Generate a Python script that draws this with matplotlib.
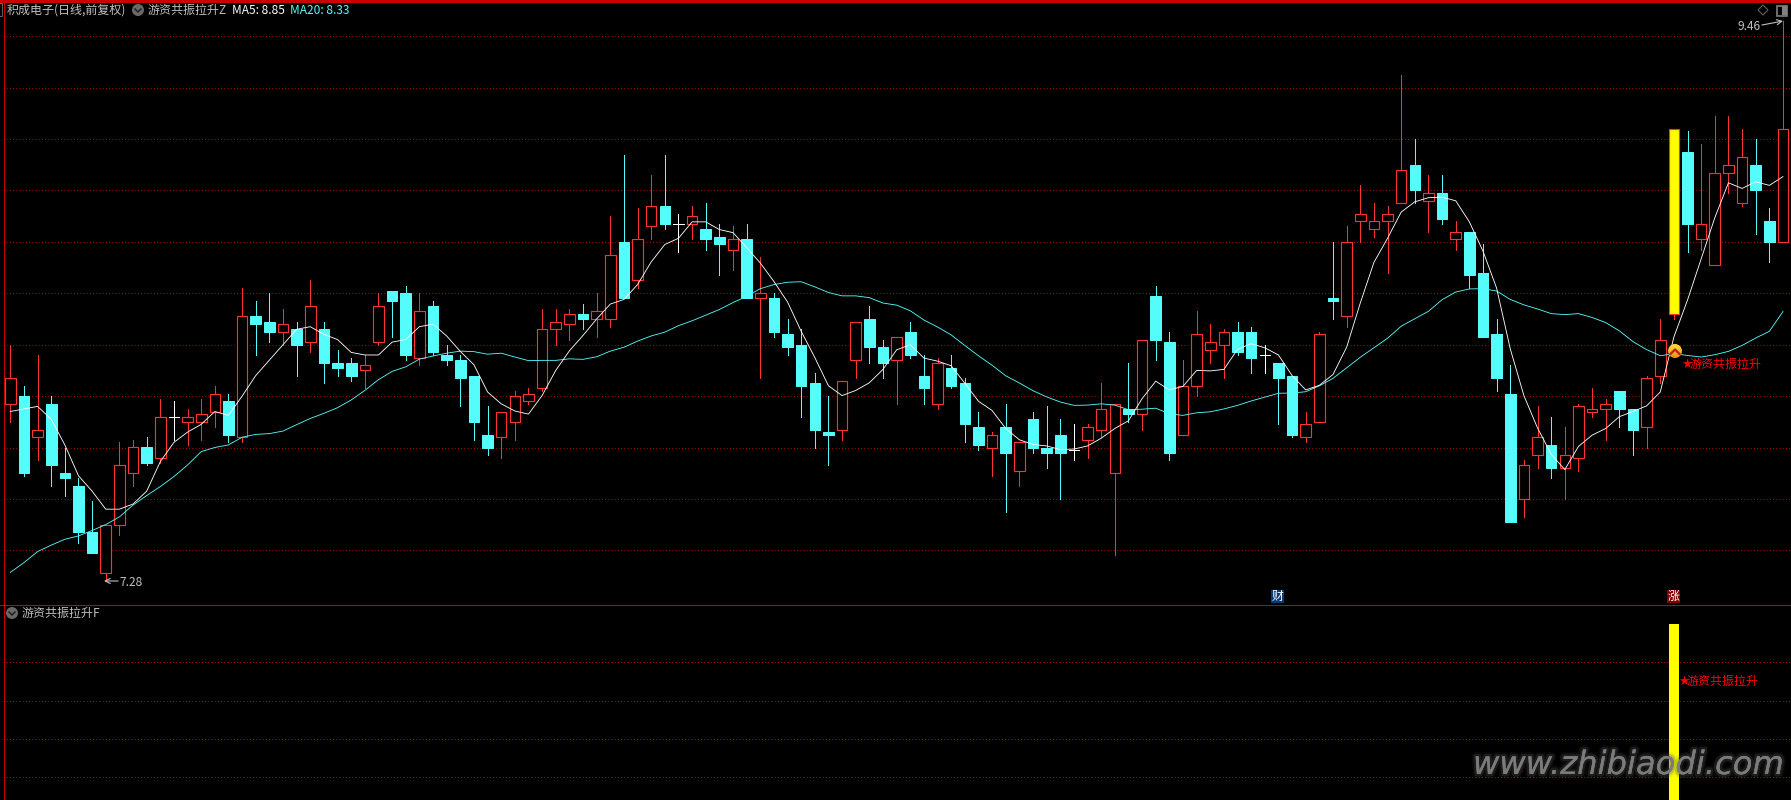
import matplotlib
matplotlib.use("Agg")
import numpy as np
import matplotlib.pyplot as plt
import matplotlib.patheffects as pe
from matplotlib.patches import Rectangle, Circle, Polygon

W, H = 1791, 800
CJK = ['Noto Sans CJK SC', 'DejaVu Sans']
plt.rcParams['font.family'] = CJK

open_ = [7.97,8.00,7.84,7.97,7.70,7.65,7.47,7.31,7.50,7.70,7.80,7.76,7.92,7.90,7.90,7.94,7.98,7.84,8.31,8.29,
         8.25,8.26,8.21,8.26,8.13,8.13,8.10,8.21,8.41,8.40,8.15,8.35,8.16,8.14,8.08,7.85,7.84,7.90,7.98,8.03,
         8.26,8.28,8.32,8.30,8.30,8.60,8.45,8.66,8.74,8.67,8.67,8.65,8.62,8.57,8.61,8.38,8.38,8.24,8.20,8.05,
         7.86,7.87,8.14,8.30,8.19,8.14,8.25,8.08,7.97,8.11,8.05,7.88,7.80,7.88,7.71,7.91,7.80,7.85,7.79,7.83,
         7.87,7.70,7.95,7.93,8.39,8.21,7.85,8.04,8.18,8.20,8.25,8.25,8.16,8.13,8.08,7.84,7.90,8.38,8.31,8.68,
         8.65,8.68,8.75,8.90,8.76,8.79,8.61,8.64,8.48,8.24,8.01,7.60,7.77,7.81,7.72,7.76,7.94,7.95,8.02,7.95,
         7.88,8.08,8.32,8.95,8.61,8.51,8.87,8.75,8.90,8.68,8.60]
high = [8.20,8.04,8.16,8.00,7.80,7.68,7.59,7.50,7.82,7.83,7.84,7.99,7.98,7.95,7.99,8.04,8.01,8.42,8.37,8.40,
        8.34,8.29,8.45,8.29,8.18,8.15,8.16,8.40,8.41,8.43,8.40,8.37,8.20,8.16,8.08,7.96,7.94,8.02,8.03,8.34,
        8.34,8.34,8.36,8.40,8.70,8.94,8.73,8.86,8.94,8.71,8.74,8.75,8.67,8.66,8.67,8.54,8.40,8.30,8.26,8.09,
        8.00,8.06,8.29,8.35,8.22,8.23,8.29,8.16,8.15,8.16,8.07,7.94,7.86,7.97,7.82,7.94,7.96,7.91,7.89,7.89,
        8.05,7.97,8.13,8.22,8.43,8.25,8.14,8.33,8.28,8.26,8.29,8.27,8.20,8.13,8.08,7.94,8.25,8.60,8.66,8.82,
        8.75,8.74,9.25,9.00,8.86,8.86,8.68,8.64,8.59,8.30,8.12,7.75,7.96,7.92,7.88,7.97,8.03,7.99,8.02,7.95,
        8.08,8.30,9.04,9.03,8.98,9.09,9.09,9.04,9.00,8.73,9.46]
low = [7.90,7.69,7.75,7.65,7.61,7.43,7.39,7.28,7.46,7.65,7.73,7.74,7.83,7.81,7.83,7.88,7.82,7.82,8.16,8.21,
       8.20,8.08,8.17,8.05,8.08,8.06,8.03,8.20,8.23,8.14,8.12,8.16,8.12,7.96,7.83,7.77,7.76,7.83,7.97,8.02,
       8.20,8.22,8.26,8.23,8.27,8.38,8.42,8.61,8.65,8.56,8.61,8.57,8.47,8.49,8.38,8.07,8.23,8.16,7.92,7.80,
       7.73,7.83,8.07,8.13,8.07,7.97,8.15,7.97,7.95,8.03,7.82,7.79,7.69,7.55,7.65,7.78,7.72,7.60,7.75,7.76,
       7.84,7.38,7.90,7.87,8.14,7.75,7.85,8.00,8.13,8.07,8.16,8.09,8.09,7.89,7.84,7.82,7.90,8.30,8.27,8.60,
       8.62,8.48,8.75,8.75,8.64,8.67,8.57,8.42,8.23,8.02,7.51,7.53,7.72,7.68,7.60,7.71,7.92,7.83,7.88,7.77,
       7.80,8.05,8.30,8.56,8.57,8.51,8.79,8.74,8.63,8.52,8.60]
close = [8.07,7.70,7.87,7.73,7.68,7.47,7.39,7.50,7.73,7.80,7.74,7.92,7.92,7.92,7.93,8.01,7.85,8.31,8.28,8.25,
         8.28,8.20,8.35,8.13,8.11,8.08,8.12,8.35,8.37,8.16,8.33,8.17,8.14,8.07,7.90,7.80,7.94,8.00,8.01,8.26,
         8.29,8.32,8.30,8.33,8.55,8.38,8.61,8.74,8.67,8.67,8.70,8.61,8.59,8.61,8.38,8.40,8.25,8.19,8.04,7.87,
         7.85,8.06,8.29,8.19,8.13,8.23,8.16,8.03,8.13,8.04,7.89,7.81,7.85,7.78,7.82,7.80,7.78,7.78,7.79,7.88,
         7.95,7.97,7.93,8.22,8.22,7.78,8.04,8.24,8.21,8.25,8.17,8.15,8.16,8.07,7.85,7.89,8.24,8.37,8.60,8.71,
         8.68,8.71,8.88,8.80,8.79,8.69,8.64,8.47,8.23,8.07,7.51,7.73,7.84,7.72,7.77,7.96,7.95,7.97,7.95,7.87,
         8.07,8.22,9.04,8.67,8.67,8.87,8.90,8.93,8.80,8.60,9.04]
ma5 = [7.94,7.95,7.96,7.91,7.81,7.69,7.63,7.56,7.56,7.58,7.63,7.745,7.82,7.86,7.89,7.94,7.925,8.00,8.08,8.14,
       8.20,8.26,8.27,8.24,8.22,8.17,8.16,8.16,8.21,8.22,8.27,8.28,8.234,8.174,8.122,8.016,7.97,7.942,7.93,8.002,
       8.10,8.176,8.236,8.30,8.358,8.376,8.434,8.522,8.59,8.614,8.678,8.678,8.648,8.636,8.578,8.518,8.446,8.366,8.252,8.15,
       8.04,8.002,8.022,8.052,8.104,8.18,8.20,8.148,8.136,8.118,8.05,7.98,7.944,7.874,7.83,7.812,7.806,7.792,7.794,7.806,
       7.836,7.874,7.904,7.99,8.058,8.024,8.038,8.10,8.098,8.104,8.182,8.204,8.188,8.16,8.08,8.024,8.042,8.084,8.19,8.362,
       8.52,8.614,8.716,8.756,8.772,8.774,8.76,8.678,8.564,8.42,8.184,8.002,7.876,7.774,7.714,7.804,7.848,7.874,7.92,7.94,
       7.962,8.016,8.23,8.374,8.534,8.694,8.83,8.808,8.834,8.82,8.854]
ma20 = [7.314,7.352,7.395,7.42,7.443,7.456,7.477,7.50,7.53,7.576,7.613,7.648,7.687,7.732,7.784,7.80,7.81,7.84,7.851,7.854,
        7.864,7.889,7.913,7.933,7.955,7.985,8.022,8.064,8.096,8.114,8.144,8.156,8.167,8.175,8.173,8.163,8.167,8.152,8.138,8.139,
        8.139,8.145,8.143,8.153,8.175,8.190,8.214,8.234,8.249,8.274,8.293,8.315,8.337,8.364,8.388,8.418,8.434,8.443,8.445,8.425,
        8.403,8.390,8.390,8.383,8.362,8.354,8.332,8.296,8.269,8.238,8.197,8.157,8.120,8.079,8.051,8.021,7.997,7.977,7.964,7.965,
        7.970,7.965,7.947,7.949,7.953,7.931,7.925,7.935,7.939,7.950,7.964,7.981,7.996,8.011,8.012,8.017,8.040,8.069,8.110,8.151,
        8.188,8.225,8.272,8.301,8.330,8.375,8.405,8.417,8.418,8.409,8.376,8.355,8.339,8.321,8.317,8.321,8.306,8.286,8.254,8.212,
        8.181,8.157,8.165,8.158,8.152,8.161,8.174,8.197,8.226,8.252,8.329]
price_grid = [9.40,9.20,9.00,8.80,8.60,8.40,8.20,8.00,7.80,7.60,7.40]
signal_index = 122
signal_value = 100
low_grid = [80,60,40,20]
low_label = '7.28'
high_label = '9.46'

RED = '#ff3232'
CYAN = '#54fcfc'
FRAME = '#c80000'
GRID = '#a80000'
YELLOW = '#ffff00'
GREY = '#c0c0c0'

fig = plt.figure(figsize=(W/100, H/100), dpi=100, facecolor='black')

def add_axes(top, bottom):
    ax = fig.add_axes([0, 1-bottom/H, 1, (bottom-top)/H], facecolor='black')
    ax.axis('off')
    return ax

ax = add_axes(0, 604.5)
slot = 13.636
x0 = 10.3
ax.set_xlim(-x0/slot, (W-x0)/slot)
ax.set_ylim(7.40-(604.5-550.3)/257, 7.40+550.3/257)
sub = add_axes(604.5, H)
sub.set_xlim(*ax.get_xlim())
px = 38.33/20
sub.set_ylim(100-(H-624)/px, 100+(624-604.5)/px)

onepx = 0.72
DOT = (0, (1.0, 2.2))
for g in price_grid:
    ax.plot([-0.5, 131], [g, g], color=GRID, lw=onepx, ls=DOT, dash_capstyle='butt', snap=True, zorder=1)
for g in low_grid:
    sub.plot([-0.5, 131], [g, g], color='#c80000', lw=onepx, ls=DOT, dash_capstyle='butt', snap=True, zorder=1)

bw = 10.6/slot
for i, (o, h, l, c) in enumerate(zip(open_, high, low, close)):
    top, bot = max(o, c), min(o, c)
    if c > o:
        ax.vlines(i, l, h, color=RED, lw=onepx, aa=False, zorder=2)
        ax.add_patch(Rectangle((i-bw/2, bot), bw, top-bot, fc=YELLOW if i == signal_index else 'black',
                               ec=RED, lw=onepx*1.15, snap=True, zorder=3))
    elif c < o:
        ax.vlines(i, l, h, color=CYAN, lw=onepx, aa=False, zorder=2)
        ax.add_patch(Rectangle((i-bw/2, bot), bw, top-bot, fc=CYAN, ec=CYAN, lw=onepx, snap=True, zorder=3))
    else:
        ax.vlines(i, l, h, color='white', lw=onepx, aa=False, zorder=2)
        ax.hlines(c, i-bw/2, i+bw/2, color='white', lw=onepx, aa=False, zorder=2)

xs = list(range(len(close)))
ax.plot(xs, ma20, color=CYAN, lw=0.62, aa=True, zorder=4)
ax.plot(xs, ma5, color='white', lw=0.62, aa=True, zorder=5)

sub.bar([signal_index], [signal_value], width=9.6/slot, bottom=0, color=YELLOW, zorder=3)

ov = fig.add_axes([0, 0, 1, 1], facecolor='none')
ov.set_xlim(0, W); ov.set_ylim(H, 0); ov.axis('off')
ov.plot([0, W], [0.8, 0.8], color=FRAME, lw=1.5, aa=False)
ov.plot([3.5, 3.5], [0, H], color=FRAME, lw=onepx, aa=False)
ov.plot([0, W], [604.5, 604.5], color=FRAME, lw=onepx, aa=False)
ov.add_patch(Rectangle((-1, 3), 3, 13, fc='none', ec='#606060', lw=onepx))

FS = 8.64
def label(x, y, s, color=GREY, fs=FS, **kw):
    ov.text(x, y, s, color=color, fontsize=fs, va='center', ha='left', family=CJK, **kw)

label(6.5, 10, '积成电子(日线,前复权)')
label(147.5, 10, '游资共振拉升Z')
label(232, 10, 'MA5: 8.85', color='white', fs=8.6)
label(290, 10, 'MA20: 8.33', color=CYAN, fs=8.6)
label(22, 613, '游资共振拉升F')

def chevron_icon(x, y):
    ov.add_patch(Circle((x, y), 6, fc='#686868', ec='none'))
    ov.plot([x-3, x, x+3], [y-1, y+2, y-1], color='#1a1a1a', lw=1.0)
chevron_icon(138, 10)
chevron_icon(12, 613)

label(119, 582, low_label, color=GREY, fs=8.6)
ov.annotate('', xy=(104, 581), xytext=(118, 581), arrowprops=dict(arrowstyle='->', color=GREY, lw=0.8, mutation_scale=9, shrinkA=0, shrinkB=0))
label(1737, 27, high_label, color=GREY, fs=8.6)
ov.annotate('', xy=(1783, 21), xytext=(1762, 25), arrowprops=dict(arrowstyle='->', color=GREY, lw=0.8, mutation_scale=9, shrinkA=0, shrinkB=0))

ov.add_patch(Polygon([(1763, 5), (1768, 10), (1763, 15), (1758, 10)], closed=True, fc='none', ec='#606060', lw=0.8))
ov.add_patch(Rectangle((1776.5, 5.5), 10, 10, fc='none', ec='#808080', lw=1.2))
ov.add_patch(Rectangle((1782, 6), 4.5, 9, fc='#808080', ec='none'))

ov.add_patch(Rectangle((1271, 590), 13, 13, fc='#0a3a78', ec='none'))
ov.text(1277.5, 596.5, '财', color='white', fontsize=8.6, ha='center', va='center', family=CJK)
ov.add_patch(Rectangle((1667, 590), 13, 13, fc='#800000', ec='none'))
ov.text(1673.5, 596.5, '涨', color='white', fontsize=8.6, ha='center', va='center', family=CJK)

disc = Circle((1675, 351), 7, transform=ov.transData)
grad = np.linspace(0, 1, 16).reshape(-1, 1)
img = ov.imshow(grad, extent=(1668, 1682, 358, 344), aspect='auto', interpolation='bilinear',
                cmap=matplotlib.colors.LinearSegmentedColormap.from_list('g', ['#ffe040', '#f08a20']), zorder=6)
img.set_clip_path(disc)
ov.set_xlim(0, W); ov.set_ylim(H, 0)
ov.plot([1670.5, 1675, 1679.5], [354, 349.5, 354], color='#c02010', lw=1.6, zorder=7)

for x, y in [(1682, 364), (1679, 681)]:
    ov.text(x+4.5, y, '★', color='#ff0000', fontsize=9, ha='center', va='center', family=['DejaVu Sans'])
    label(x+8, y, '游资共振拉升', color='#ff0000')

wm = ov.text(1473, 774, 'www.zhibiaodi.com', color='#7c7c7c', fontsize=23.2, style='italic',
             family='DejaVu Sans', va='baseline', ha='left', alpha=0.9, zorder=10)
wm.set_path_effects([pe.withStroke(linewidth=6, foreground='#555555', alpha=0.12),
                     pe.withStroke(linewidth=3.5, foreground='#555555', alpha=0.25), pe.Normal()])

fig.savefig('out.png', dpi=100, facecolor='black')
